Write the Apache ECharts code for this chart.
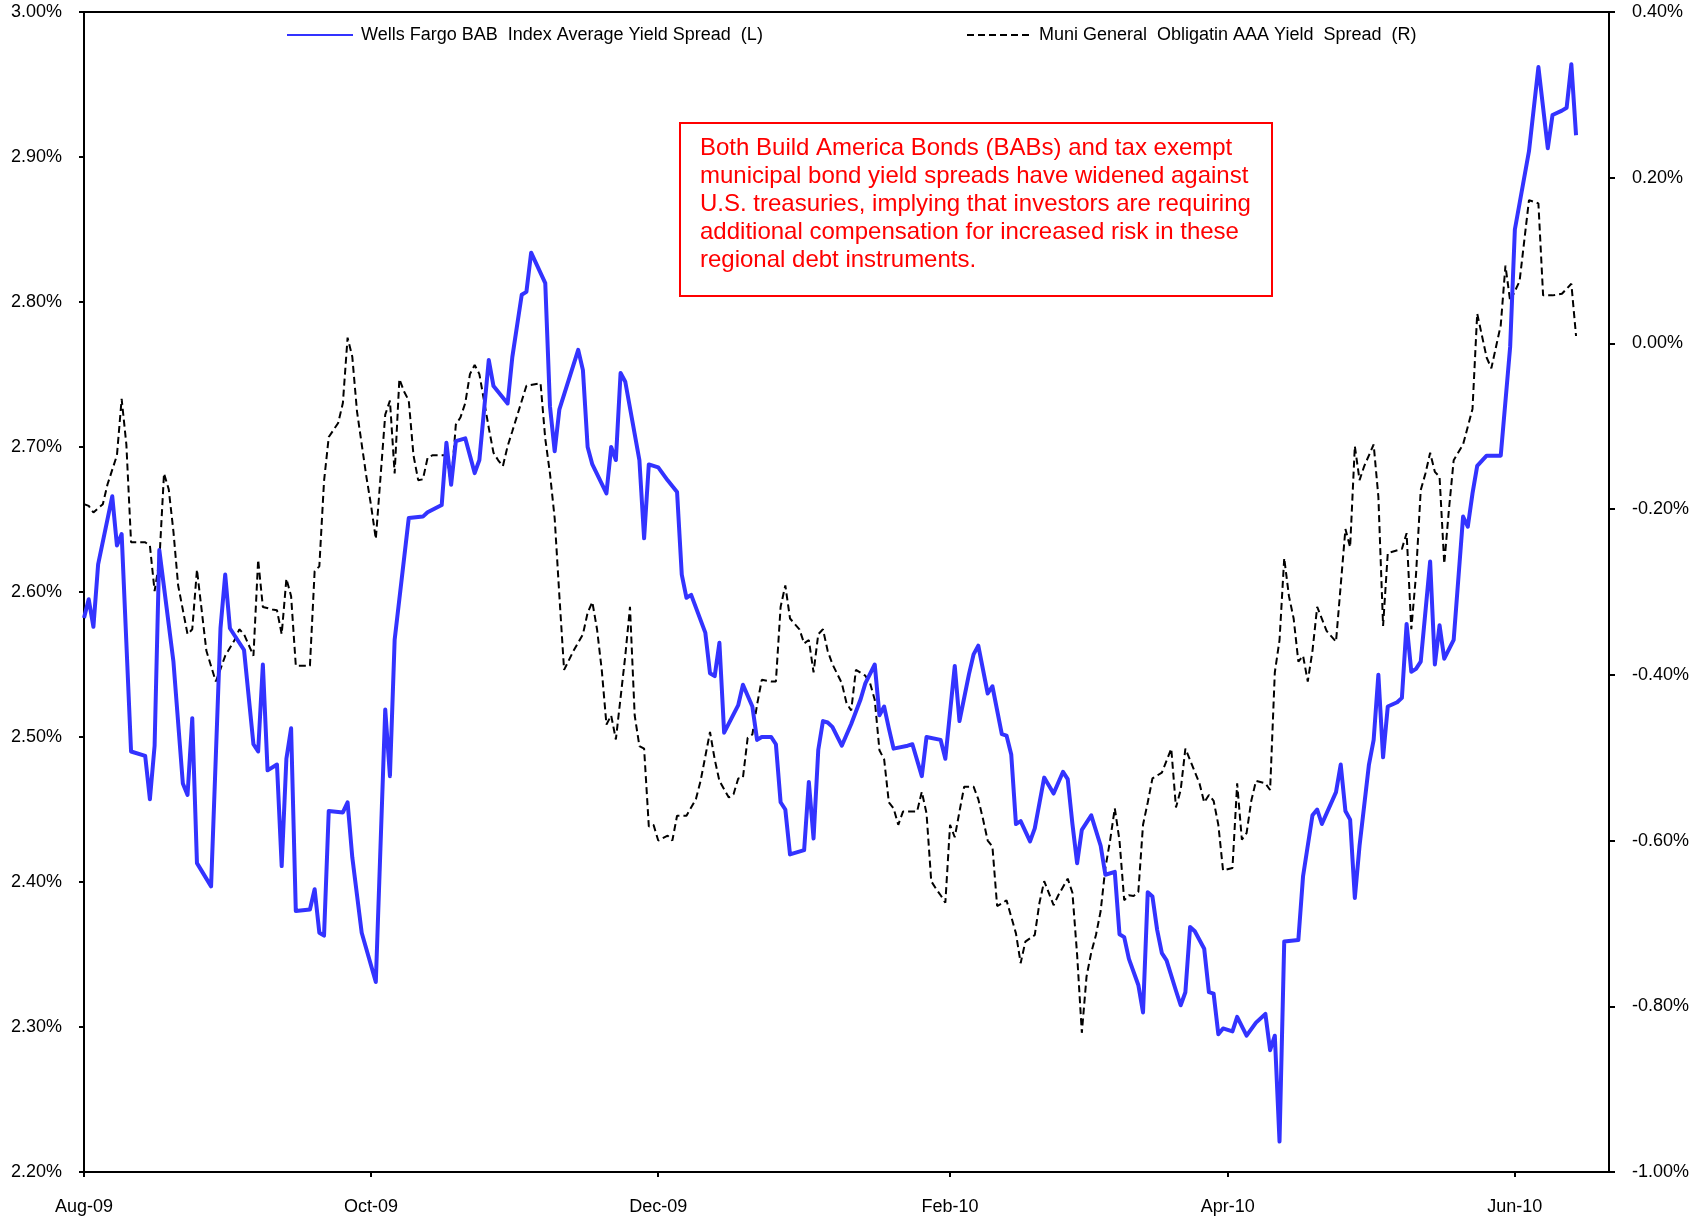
<!DOCTYPE html>
<html>
<head>
<meta charset="utf-8">
<script src="https://cdn.jsdelivr.net/npm/echarts@6/dist/echarts.min.js"></script>
<style>
html,body{margin:0;padding:0;background:#fff;}
#chart{width:1703px;height:1224px;}
</style>
</head>
<body>
<div id="chart"></div>
<script>
// ---- Data ----
const babName = 'Wells Fargo BAB  Index Average Yield Spread  (L)';
const muniName = 'Muni General  Obligatin AAA Yield  Spread  (R)';

const babDates = [
'2009-08-01','2009-08-02','2009-08-03','2009-08-04','2009-08-07','2009-08-08','2009-08-09','2009-08-11','2009-08-14','2009-08-15',
'2009-08-16','2009-08-17','2009-08-20','2009-08-22','2009-08-23','2009-08-24','2009-08-25','2009-08-28','2009-08-30','2009-08-31',
'2009-09-01','2009-09-04','2009-09-06','2009-09-07','2009-09-08','2009-09-09','2009-09-11','2009-09-12','2009-09-13','2009-09-14',
'2009-09-15','2009-09-18','2009-09-19','2009-09-20','2009-09-21','2009-09-22','2009-09-25','2009-09-26','2009-09-27','2009-09-29',
'2009-10-02','2009-10-04','2009-10-05','2009-10-06','2009-10-09','2009-10-12','2009-10-13','2009-10-16','2009-10-17','2009-10-18',
'2009-10-19','2009-10-21','2009-10-23','2009-10-24','2009-10-26','2009-10-27','2009-10-30','2009-10-31','2009-11-02','2009-11-03',
'2009-11-04','2009-11-07','2009-11-08','2009-11-09','2009-11-10','2009-11-14','2009-11-15','2009-11-16','2009-11-17','2009-11-20',
'2009-11-21','2009-11-22','2009-11-23','2009-11-24','2009-11-27','2009-11-28','2009-11-29','2009-12-01','2009-12-03','2009-12-05',
'2009-12-06','2009-12-07','2009-12-08','2009-12-11','2009-12-12','2009-12-13','2009-12-14','2009-12-15','2009-12-18','2009-12-19',
'2009-12-21','2009-12-22','2009-12-23','2009-12-25','2009-12-26','2009-12-27','2009-12-28','2009-12-29','2010-01-01','2010-01-02',
'2010-01-03','2010-01-04','2010-01-05','2010-01-06','2010-01-07','2010-01-09','2010-01-11','2010-01-13','2010-01-14','2010-01-16',
'2010-01-17','2010-01-18','2010-01-19','2010-01-20','2010-01-23','2010-01-24','2010-01-26','2010-01-27','2010-01-30','2010-01-31',
'2010-02-02','2010-02-03','2010-02-05','2010-02-06','2010-02-07','2010-02-09','2010-02-10','2010-02-12','2010-02-13','2010-02-14',
'2010-02-15','2010-02-16','2010-02-18','2010-02-19','2010-02-21','2010-02-23','2010-02-25','2010-02-26','2010-02-27','2010-02-28',
'2010-03-01','2010-03-03','2010-03-05','2010-03-06','2010-03-08','2010-03-09','2010-03-10','2010-03-11','2010-03-13','2010-03-14',
'2010-03-15','2010-03-16','2010-03-17','2010-03-18','2010-03-19','2010-03-21','2010-03-22','2010-03-23','2010-03-24','2010-03-25',
'2010-03-27','2010-03-28','2010-03-29','2010-03-30','2010-03-31','2010-04-02','2010-04-03','2010-04-05','2010-04-07','2010-04-09',
'2010-04-10','2010-04-11','2010-04-12','2010-04-13','2010-04-16','2010-04-17','2010-04-19','2010-04-20','2010-04-21','2010-04-24',
'2010-04-25','2010-04-26','2010-04-27','2010-04-28','2010-04-29','2010-05-01','2010-05-02','2010-05-03','2010-05-04','2010-05-05',
'2010-05-07','2010-05-08','2010-05-09','2010-05-10','2010-05-11','2010-05-12','2010-05-14','2010-05-15','2010-05-16','2010-05-17',
'2010-05-19','2010-05-21','2010-05-22','2010-05-23','2010-05-24','2010-05-26','2010-05-29','2010-05-31','2010-06-01','2010-06-04',
'2010-06-06','2010-06-08','2010-06-09','2010-06-11','2010-06-12','2010-06-13','2010-06-14'
];
const babValues = [
2.582,2.595,2.576,2.619,2.666,2.632,2.640,2.490,2.487,2.457,
2.494,2.629,2.552,2.468,2.460,2.513,2.413,2.397,2.575,2.612,
2.575,2.560,2.495,2.490,2.550,2.477,2.481,2.411,2.485,2.506,
2.380,2.381,2.395,2.365,2.363,2.449,2.448,2.455,2.417,2.365,
2.331,2.519,2.473,2.567,2.651,2.652,2.655,2.660,2.703,2.674,
2.704,2.706,2.682,2.691,2.760,2.742,2.730,2.762,2.805,2.807,
2.834,2.813,2.728,2.697,2.726,2.767,2.753,2.700,2.688,2.668,
2.700,2.691,2.751,2.745,2.691,2.637,2.688,2.686,2.677,2.669,
2.612,2.596,2.598,2.572,2.544,2.542,2.565,2.503,2.522,2.536,
2.521,2.498,2.500,2.500,2.495,2.455,2.450,2.419,2.422,2.469,
2.430,2.491,2.511,2.510,2.507,2.494,2.509,2.526,2.537,2.550,
2.515,2.521,2.506,2.492,2.494,2.495,2.473,2.500,2.498,2.485,
2.549,2.511,2.543,2.557,2.563,2.530,2.535,2.502,2.501,2.488,
2.440,2.442,2.428,2.437,2.472,2.461,2.476,2.471,2.440,2.413,
2.436,2.446,2.425,2.405,2.407,2.364,2.362,2.347,2.329,2.310,
2.393,2.390,2.367,2.351,2.346,2.325,2.315,2.324,2.369,2.366,
2.354,2.324,2.323,2.295,2.299,2.297,2.307,2.294,2.303,2.309,
2.284,2.294,2.221,2.359,2.360,2.404,2.446,2.450,2.440,2.462,
2.481,2.449,2.443,2.389,2.425,2.481,2.498,2.543,2.486,2.521,
2.524,2.527,2.578,2.545,2.547,2.552,2.621,2.550,2.577,2.554,
2.567,2.652,2.645,2.668,2.687,2.694,2.694,2.769,2.850,2.904,
2.962,2.906,2.929,2.932,2.934,2.964,2.915
];

const muniDates = [
'2009-08-01','2009-08-02','2009-08-03','2009-08-05','2009-08-06','2009-08-08','2009-08-09','2009-08-10','2009-08-11','2009-08-14',
'2009-08-15','2009-08-16','2009-08-17','2009-08-18','2009-08-19','2009-08-20','2009-08-21','2009-08-23','2009-08-24','2009-08-25',
'2009-08-26','2009-08-27','2009-08-29','2009-08-30','2009-08-31','2009-09-02','2009-09-03','2009-09-04','2009-09-06','2009-09-07',
'2009-09-08','2009-09-10','2009-09-11','2009-09-12','2009-09-13','2009-09-14','2009-09-15','2009-09-18','2009-09-19','2009-09-20',
'2009-09-21','2009-09-22','2009-09-24','2009-09-25','2009-09-26','2009-09-27','2009-09-28','2009-09-30','2009-10-01','2009-10-02',
'2009-10-03','2009-10-04','2009-10-05','2009-10-06','2009-10-07','2009-10-08','2009-10-09','2009-10-10','2009-10-11','2009-10-12',
'2009-10-13','2009-10-14','2009-10-17','2009-10-18','2009-10-19','2009-10-20','2009-10-21','2009-10-22','2009-10-23','2009-10-24',
'2009-10-26','2009-10-27','2009-10-28','2009-10-29','2009-10-30','2009-10-31','2009-11-03','2009-11-06','2009-11-07','2009-11-08',
'2009-11-09','2009-11-10','2009-11-11','2009-11-13','2009-11-15','2009-11-16','2009-11-17','2009-11-18','2009-11-19','2009-11-20',
'2009-11-21','2009-11-22','2009-11-24','2009-11-25','2009-11-26','2009-11-27','2009-11-28','2009-11-29','2009-11-30','2009-12-01',
'2009-12-03','2009-12-04','2009-12-05','2009-12-07','2009-12-09','2009-12-10','2009-12-12','2009-12-13','2009-12-14','2009-12-16',
'2009-12-17','2009-12-18','2009-12-19','2009-12-20','2009-12-21','2009-12-22','2009-12-23','2009-12-25','2009-12-26','2009-12-27',
'2009-12-28','2009-12-29','2009-12-31','2010-01-01','2010-01-02','2010-01-03','2010-01-04','2010-01-05','2010-01-06','2010-01-07',
'2010-01-09','2010-01-10','2010-01-11','2010-01-12','2010-01-14','2010-01-15','2010-01-16','2010-01-17','2010-01-18','2010-01-19',
'2010-01-20','2010-01-21','2010-01-22','2010-01-25','2010-01-26','2010-01-27','2010-01-28','2010-01-29','2010-01-30','2010-01-31',
'2010-02-01','2010-02-02','2010-02-03','2010-02-04','2010-02-06','2010-02-07','2010-02-08','2010-02-09','2010-02-10','2010-02-11',
'2010-02-12','2010-02-13','2010-02-15','2010-02-16','2010-02-17','2010-02-19','2010-02-20','2010-02-21','2010-02-23','2010-02-24',
'2010-02-26','2010-02-27','2010-02-28','2010-03-01','2010-03-02','2010-03-03','2010-03-04','2010-03-05','2010-03-06','2010-03-07',
'2010-03-08','2010-03-09','2010-03-10','2010-03-11','2010-03-12','2010-03-13','2010-03-14','2010-03-15','2010-03-16','2010-03-18',
'2010-03-20','2010-03-21','2010-03-22','2010-03-23','2010-03-26','2010-03-27','2010-03-28','2010-03-29','2010-03-30','2010-03-31',
'2010-04-02','2010-04-03','2010-04-04','2010-04-05','2010-04-06','2010-04-07','2010-04-09','2010-04-10','2010-04-11','2010-04-12',
'2010-04-13','2010-04-14','2010-04-15','2010-04-16','2010-04-17','2010-04-18','2010-04-19','2010-04-20','2010-04-22','2010-04-24',
'2010-04-25','2010-04-26','2010-04-27','2010-04-28','2010-04-29','2010-04-30','2010-05-02','2010-05-03','2010-05-04','2010-05-05',
'2010-05-08','2010-05-09','2010-05-10','2010-05-11','2010-05-12','2010-05-13','2010-05-14','2010-05-15','2010-05-16','2010-05-17',
'2010-05-18','2010-05-19','2010-05-21','2010-05-23','2010-05-24','2010-05-26','2010-05-27','2010-05-29','2010-05-30','2010-05-31',
'2010-06-02','2010-06-04','2010-06-06','2010-06-07','2010-06-09','2010-06-11','2010-06-13','2010-06-14'
];
const muniValues = [
-0.194,-0.196,-0.204,-0.194,-0.170,-0.135,-0.067,-0.122,-0.240,-0.240,
-0.244,-0.299,-0.263,-0.157,-0.176,-0.227,-0.292,-0.351,-0.345,-0.273,
-0.322,-0.371,-0.408,-0.393,-0.377,-0.358,-0.345,-0.351,-0.377,-0.261,
-0.318,-0.321,-0.322,-0.351,-0.284,-0.305,-0.389,-0.389,-0.275,-0.269,
-0.166,-0.113,-0.096,-0.072,0.007,-0.016,-0.082,-0.161,-0.196,-0.236,
-0.161,-0.086,-0.069,-0.157,-0.043,-0.058,-0.069,-0.135,-0.165,-0.164,
-0.138,-0.135,-0.135,-0.170,-0.098,-0.089,-0.072,-0.037,-0.026,-0.037,
-0.102,-0.132,-0.141,-0.148,-0.124,-0.106,-0.051,-0.048,-0.115,-0.157,
-0.211,-0.305,-0.394,-0.371,-0.351,-0.325,-0.312,-0.345,-0.394,-0.460,
-0.449,-0.478,-0.377,-0.318,-0.449,-0.486,-0.489,-0.583,-0.581,-0.600,
-0.594,-0.600,-0.570,-0.570,-0.550,-0.528,-0.469,-0.502,-0.528,-0.548,
-0.544,-0.525,-0.524,-0.476,-0.472,-0.436,-0.406,-0.408,-0.408,-0.318,
-0.292,-0.332,-0.345,-0.362,-0.358,-0.397,-0.351,-0.345,-0.371,-0.387,
-0.410,-0.434,-0.443,-0.394,-0.401,-0.410,-0.430,-0.491,-0.502,-0.554,
-0.561,-0.581,-0.565,-0.565,-0.541,-0.567,-0.649,-0.658,-0.666,-0.675,
-0.581,-0.596,-0.565,-0.535,-0.535,-0.550,-0.574,-0.600,-0.607,-0.679,
-0.676,-0.672,-0.712,-0.748,-0.722,-0.714,-0.675,-0.649,-0.678,-0.666,
-0.646,-0.663,-0.738,-0.832,-0.764,-0.735,-0.714,-0.685,-0.633,-0.600,
-0.561,-0.600,-0.672,-0.666,-0.667,-0.662,-0.581,-0.554,-0.525,-0.518,
-0.489,-0.560,-0.539,-0.489,-0.531,-0.554,-0.545,-0.552,-0.581,-0.636,
-0.633,-0.531,-0.599,-0.591,-0.552,-0.528,-0.531,-0.539,-0.397,-0.358,
-0.259,-0.305,-0.332,-0.384,-0.377,-0.408,-0.371,-0.318,-0.347,-0.360,
-0.292,-0.224,-0.246,-0.124,-0.165,-0.148,-0.122,-0.185,-0.341,-0.253,
-0.248,-0.229,-0.345,-0.279,-0.177,-0.157,-0.132,-0.155,-0.161,-0.266,
-0.200,-0.141,-0.122,-0.079,0.036,-0.017,-0.030,0.022,0.094,0.051,
0.075,0.173,0.169,0.058,0.058,0.060,0.072,0.009
];

const xTickDates = ['2009-08-01','2009-10-01','2009-12-01','2010-02-01','2010-04-01','2010-06-01'];
const xMin = '2009-08-01';
const xMax = '2010-06-21';
const leftAxis = {min: 2.2, max: 3.0, step: 0.1};
const rightAxis = {min: -1.0, max: 0.4, step: 0.2};

const noteText = [
  'Both Build America Bonds (BABs) and tax exempt',
  'municipal bond yield spreads have widened against',
  'U.S. treasuries, implying that investors are requiring',
  'additional compensation for increased risk in these',
  'regional debt instruments.'
];

// ---- helpers ----
const ts = s => { const p = s.split('-').map(Number); return new Date(p[0], p[1]-1, p[2]).getTime(); };
const MONTHS = ['Jan','Feb','Mar','Apr','May','Jun','Jul','Aug','Sep','Oct','Nov','Dec'];
const fmtDate = v => { const d = new Date(v); return MONTHS[d.getMonth()] + '-' + String(d.getFullYear()).slice(2); };
const pct = v => v.toFixed(2) + '%';

const babData = babDates.map((d, i) => [ts(d), babValues[i]]);
const muniData = muniDates.map((d, i) => [ts(d), muniValues[i]]);
const tickTs = xTickDates.map(ts);

const FONT = '"Liberation Sans", Arial, sans-serif';
const chart = echarts.init(document.getElementById('chart'), null, {renderer: 'canvas'});

chart.setOption({
  animation: false,
  backgroundColor: '#ffffff',
  grid: {left: 84, right: 94, top: 12, bottom: 52, show: true, borderColor: '#000', borderWidth: 2, backgroundColor: 'transparent'},
  legend: [
    {data: [babName], left: 281, top: 21, itemWidth: 66, itemHeight: 20, itemStyle: {opacity: 0},
     textStyle: {fontFamily: FONT, fontSize: 18, color: '#000', padding: [0,0,0,3]}, selectedMode: false},
    {data: [muniName], left: 961, top: 21, itemWidth: 63, itemHeight: 20, itemStyle: {opacity: 0},
     textStyle: {fontFamily: FONT, fontSize: 18, color: '#000', padding: [0,0,0,4]}, selectedMode: false}
  ],
  xAxis: {
    type: 'value', min: ts(xMin), max: ts(xMax),
    axisLine: {show: true, onZero: false, lineStyle: {color: '#000', width: 2}},
    axisTick: {show: true, length: 5, lineStyle: {color: '#000', width: 2}, customValues: tickTs},
    axisLabel: {customValues: tickTs, formatter: v => fmtDate(v), fontFamily: FONT, fontSize: 18, color: '#000', margin: 26},
    splitLine: {show: false}
  },
  yAxis: [
    {type: 'value', position: 'left', min: leftAxis.min, max: leftAxis.max, interval: leftAxis.step,
     axisLine: {show: true, lineStyle: {color: '#000', width: 2}},
     axisTick: {show: true, length: 5, lineStyle: {color: '#000', width: 2}},
     axisLabel: {formatter: pct, fontFamily: FONT, fontSize: 18, color: '#000', margin: 22},
     splitLine: {show: false}},
    {type: 'value', position: 'right', min: rightAxis.min, max: rightAxis.max, interval: rightAxis.step,
     axisLine: {show: true, lineStyle: {color: '#000', width: 2}},
     axisTick: {show: true, length: 6, lineStyle: {color: '#000', width: 2}},
     axisLabel: {formatter: pct, fontFamily: FONT, fontSize: 18, color: '#000', margin: 23},
     splitLine: {show: false}}
  ],
  series: [
    {name: babName, type: 'line', yAxisIndex: 0, data: babData, symbol: 'none',
     lineStyle: {color: '#3333FF', width: 4, join: 'round'}, itemStyle: {color: '#3333FF'}, z: 3},
    {name: muniName, type: 'line', yAxisIndex: 1, data: muniData, symbol: 'none',
     lineStyle: {color: '#000', width: 2, type: [7, 4]}, itemStyle: {color: '#000'}, z: 2}
  ],
  graphic: [
    {type: 'rect', left: 679, top: 122, shape: {width: 592, height: 173},
     style: {fill: '#fff', stroke: '#FF0000', lineWidth: 2}, z: 10},
    {type: 'text', left: 700, top: 134,
     style: {text: noteText.join('\n'), fill: '#FF0000', font: '24px ' + FONT, lineHeight: 28}, z: 11}
  ]
});
</script>
</body>
</html>
